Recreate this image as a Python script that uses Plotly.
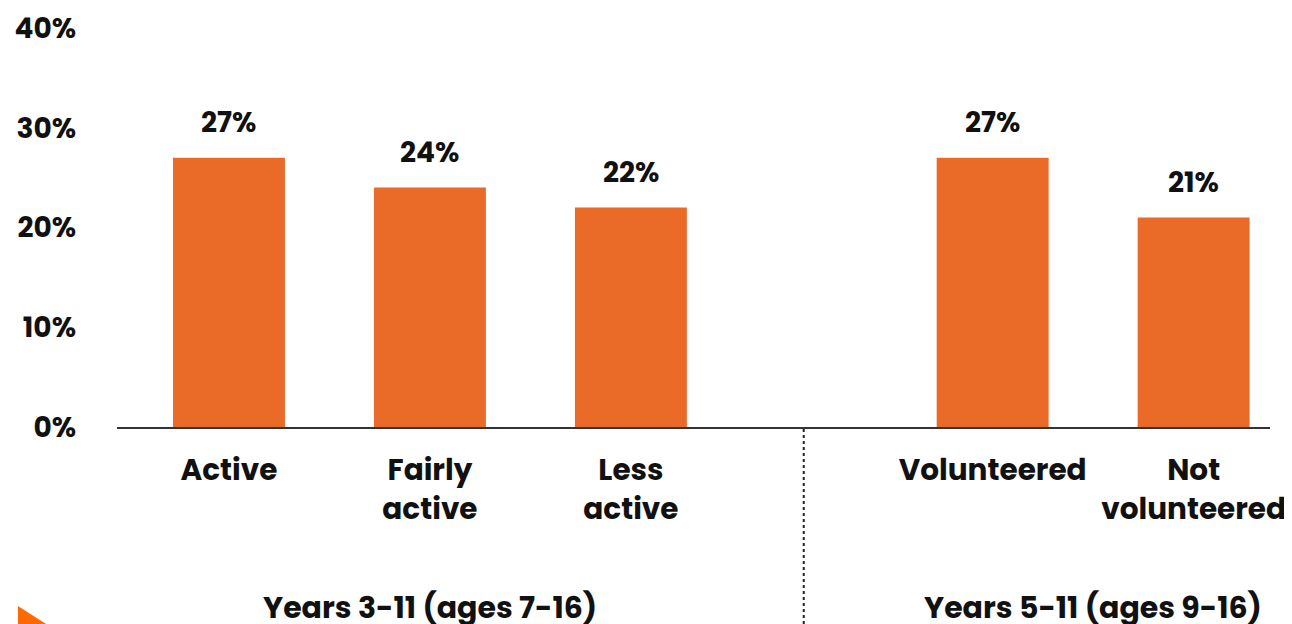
import plotly.graph_objects as go

categories = ["Active", "Fairly<br>active", "Less<br>active", "Volunteered", "Not<br>volunteered"]
values = [27, 24, 22, 27, 21]
value_labels = ["27%", "24%", "22%", "27%", "21%"]
groups = ["Years 3-11 (ages 7-16)", "Years 5-11 (ages 9-16)"]
group_members = [[0, 1, 2], [3, 4]]
y_ticks = [0, 10, 20, 30, 40]
y_tick_labels = ["0%", "10%", "20%", "30%", "40%"]

BAR = "#EA6A28"
FONT = "Poppins, 'Open Sans', sans-serif"
TXT = "#111111"

# x positions: groups separated by an extra gap
gap = 0.8
xpos = []
cur = 0.0
for gi, members in enumerate(group_members):
    for j, _ in enumerate(members):
        xpos.append(cur)
        cur += 1
    cur += gap

fig = go.Figure()
fig.add_trace(go.Bar(
    x=xpos, y=values, width=0.557, marker=dict(color=BAR, line=dict(width=0)),
    hoverinfo="skip", showlegend=False,
))

for x, v, t in zip(xpos, values, value_labels):
    fig.add_annotation(x=x, y=v, text=t, showarrow=False, yanchor="bottom", yshift=14,
                       font=dict(family=FONT, size=28, color=TXT, weight="bold"))

for g, members in zip(groups, group_members):
    cx = sum(xpos[i] for i in members) / len(members)
    fig.add_annotation(x=cx, y=0, yref="paper", text=g, showarrow=False, yanchor="middle",
                       yshift=-180, font=dict(family=FONT, size=30, color=TXT, weight="bold"))

# dotted divider between groups
div_x = (xpos[2] + xpos[3]) / 2 - 0.04
fig.add_shape(type="line", x0=div_x, x1=div_x, y0=-0.005, y1=-0.55, xref="x", yref="paper",
              line=dict(color="#222222", width=2, dash="dot"))

# orange triangle decoration bottom-left
fig.add_shape(type="path", xref="paper", yref="paper",
              path="M -0.0859 -0.4486 L -0.0859 -0.5288 L -0.0425 -0.5288 Z",
              fillcolor="#FF6A00", line=dict(width=0))

fig.update_layout(
    width=1292, height=624,
    margin=dict(l=109, r=30, t=20, b=205, autoexpand=False),
    paper_bgcolor="white", plot_bgcolor="white",
    font=dict(family=FONT, size=28, color=TXT),
    xaxis=dict(range=[-0.557, 5.18], tickvals=xpos, ticktext=categories, automargin=False,
               showgrid=False, zeroline=False, showline=True, linecolor="#333333", linewidth=2,
               ticks="", tickfont=dict(family=FONT, size=29.5, color=TXT, weight="bold"),
               ticklabelstandoff=16),
    yaxis=dict(range=[0, 40], tickvals=y_ticks, ticktext=y_tick_labels, automargin=False,
               showgrid=False, zeroline=False, showline=False, ticks="",
               tickfont=dict(family=FONT, size=28, color=TXT, weight="bold"),
               ticklabelstandoff=40),
)

fig.write_html("out.html")
